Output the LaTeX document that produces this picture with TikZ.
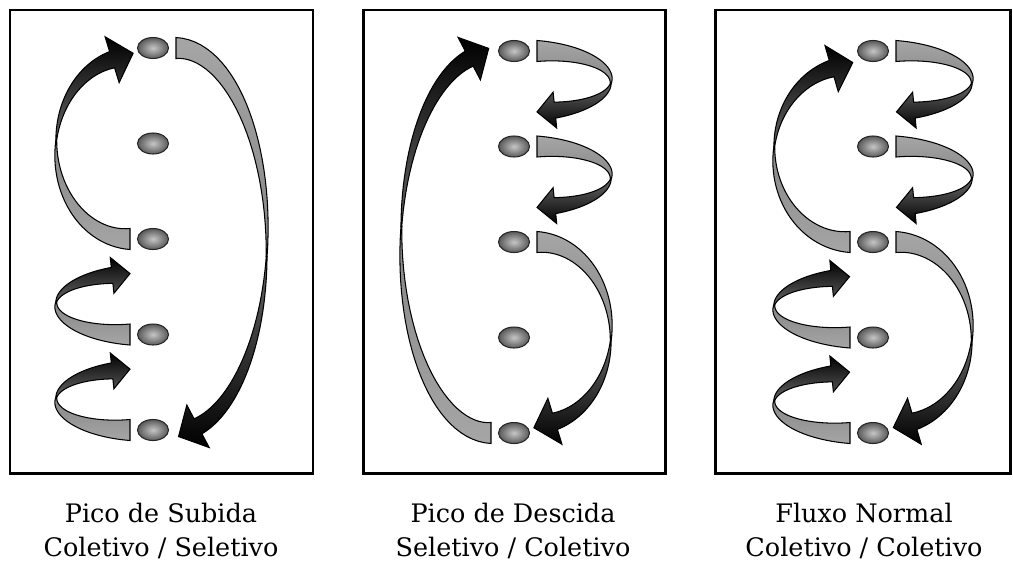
\documentclass[tikz,border=0pt]{standalone}
\usepackage{fontspec}
\setmainfont{DejaVu Serif}
\usetikzlibrary{shapes.geometric}

% one twisted band arrow: tail x, tail y, side, reach, half height, big?
\newcommand{\ribbon}[6]{%
	\pgfmathsetmacro{\ribX}{#1}%
	\pgfmathsetmacro{\ribY}{#2}%
	\pgfmathsetmacro{\ribS}{#3}%
	\pgfmathsetmacro{\ribA}{#4}%
	\pgfmathsetmacro{\ribB}{#5}%
	\ifnum#6=1 \def\ribH{24}\def\ribL{22}\def\ribV{8.5}\else\def\ribH{18}\def\ribL{18}\def\ribV{8}\fi
	\def\ribW{10.5}\def\ribK{95}\def\ribE{166}%
	\pgfmathsetmacro{\ribAng}{(\ribB>0)?0:180}%
	\shadedraw[tailband,shading angle=\ribAng]
		plot[domain=0:\ribK] ({cx(\x)-wt(\x)*uy(\x)},{cy(\x)+wt(\x)*ux(\x)})
		-- plot[domain=\ribK:0] ({cx(\x)+wt(\x)*uy(\x)},{cy(\x)-wt(\x)*ux(\x)}) -- cycle;
	\shadedraw[headband,shading angle=\ribAng]
		plot[domain=\ribK:\ribE] ({cx(\x)-wh(\x)*uy(\x)},{cy(\x)+wh(\x)*ux(\x)})
		-- ({cx(\ribE)-\ribH*uy(\ribE)},{cy(\ribE)+\ribH*ux(\ribE)})
		-- ({cx(\ribE)+\ribL*ux(\ribE)},{cy(\ribE)+\ribL*uy(\ribE)})
		-- ({cx(\ribE)+\ribH*uy(\ribE)},{cy(\ribE)-\ribH*ux(\ribE)})
		-- plot[domain=\ribE:\ribK] ({cx(\x)+wh(\x)*uy(\x)},{cy(\x)-wh(\x)*ux(\x)}) -- cycle;
}

\begin{document}
\begin{tikzpicture}[x=0.02cm,y=-0.02cm,
	floor/.style={ellipse,draw=black!85,line width=0.6pt,inner sep=0pt,minimum width=0.62cm,minimum height=0.42cm,shading=radial,inner color=gray!45,outer color=black!65},
	panel/.style={draw=black,line width=1.7pt},
	caption/.style={align=center,font=\fontsize{14.5}{19.5}\selectfont},
	tailband/.style={draw=black,line width=0.6pt,top color=gray!70,bottom color=gray!95,samples=30},
	headband/.style={draw=black,line width=0.6pt,top color=black!60,bottom color=black,samples=30},
	declare function={
		cx(\t)=(\ribX)+(\ribS)*(\ribA)*sin(\t);
		cy(\t)=(\ribY)+(\ribB)-(\ribB)*cos(\t);
		tn(\t)=veclen((\ribA)*cos(\t)/100,(\ribB)*sin(\t)/100);
		ux(\t)=(\ribS)*(\ribA)*cos(\t)/100/tn(\t);
		uy(\t)=(\ribB)*sin(\t)/100/tn(\t);
		wt(\t)=0.4+(\ribW-0.4)*(1-\t/\ribK);
		wh(\t)=0.4+(\ribV-0.4)*(\t-\ribK)/(\ribE-\ribK);
	}
	]
	\useasboundingbox (0,0) rectangle (1013,562);
	\draw[panel] (10,10) rectangle (313,473);
	\draw[panel] (363,10) rectangle (665,473);
	\draw[panel] (715,10) rectangle (1010,473);
	\foreach \fx/\fy/\k/\s/\a/\b/\sz in {
		153/48/3/-1/74/-91/1, 153/48/4/-1/74/-30/0, 153/48/5/-1/74/-30/0, 153/48/1/1/91/192/1,
		514/51/5/-1/90/-190/1, 514/51/1/1/74/30/0, 514/51/2/1/74/30/0, 514/51/3/1/74/91/1,
		873/51/3/-1/76/-88/1, 873/51/1/1/76/30/0, 873/51/2/1/76/30/0, 873/51/4/-1/76/-30/0,
		873/51/5/-1/76/-30/0, 873/51/3/1/76/91/1
	}{
		\ribbon{\fx+(\s)*23}{\fy+(\k-1)*95.5}{\s}{\a}{\b}{\sz}
	}
	\foreach \p/\fx/\fy in {1/153/48,2/514/51,3/873/51}{
		\foreach \k in {1,...,5}{
			\node[floor] (p\p f\k) at (\fx,{\fy+(\k-1)*95.5}) {};
		}
	}
	\node[caption] (cap1) at (161,531) {Pico de Subida\\Coletivo / Seletivo};
	\node[caption] (cap2) at (513,531) {Pico de Descida\\Seletivo / Coletivo};
	\node[caption] (cap3) at (864,531) {Fluxo Normal\\Coletivo / Coletivo};
\end{tikzpicture}
\end{document}
